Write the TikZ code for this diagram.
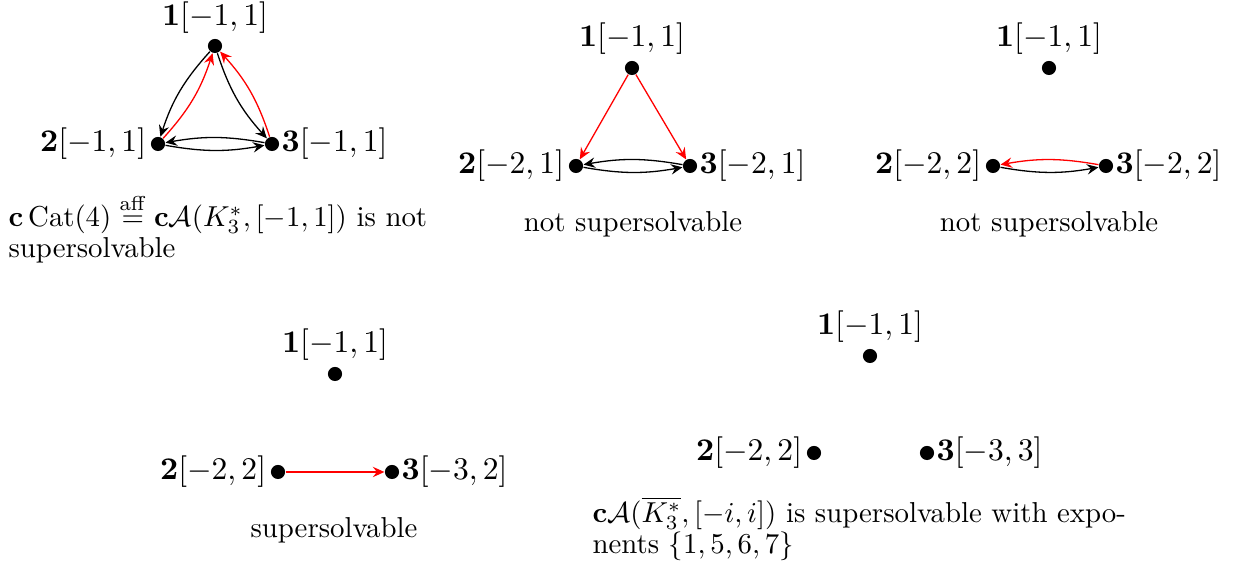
\documentclass[tikz,border=0pt]{standalone}
\usepackage{amsmath}
\usetikzlibrary{arrows.meta}
\begin{document}
\begin{tikzpicture}[x=0.347pt,y=-0.347pt,
  dot/.style={circle,fill=black,inner sep=0pt,minimum size=4.9pt},
  lab/.style={inner sep=0.5pt,font=\fontsize{10.5}{12}\selectfont},
  captext/.style={inner sep=0pt,font=\fontsize{10}{10.8}\selectfont},
  arr/.style={-{Stealth[length=4pt,width=3.6pt,inset=1.4pt]},line width=0.45pt},
  rarr/.style={arr,red},
  every label/.style={lab}]
\useasboundingbox (0,0) rectangle (1237,567);
% graph 1
\node[dot,label={[label distance=0.9pt]above:$\mathbf{1}[-1,1]$}] (a1) at (215,46) {};
\node[dot,label={[label distance=0.8pt]left:$\mathbf{2}[-1,1]$}] (a2) at (158,144) {};
\node[dot,label={[label distance=0pt]right:$\mathbf{3}[-1,1]$}] (a3) at (272,144) {};
\draw[arr] (a1) to[bend right=12] (a2);
\draw[rarr] (a2) to[bend right=12] (a1);
\draw[arr] (a1) to[bend right=12] (a3);
\draw[rarr] (a3) to[bend right=12] (a1);
\draw[arr] (a3) to[bend right=10] (a2);
\draw[arr] (a2) to[bend right=10] (a3);
\node[captext,anchor=north west,text width=150pt,align=left] (c1) at (8,193)
  {$\mathbf{c}\operatorname{Cat}(4) \stackrel{\mathrm{aff}}{=} \mathbf{c}\mathcal{A}(K_3^*,[-1,1])$ is not\\supersolvable};
% graph 2
\node[dot,label={[label distance=1.2pt]above:$\mathbf{1}[-1,1]$}] (b1) at (632,68) {};
\node[dot,label={[label distance=0.8pt]left:$\mathbf{2}[-2,1]$}] (b2) at (576,166) {};
\node[dot,label={[label distance=0pt]right:$\mathbf{3}[-2,1]$}] (b3) at (690,166) {};
\draw[rarr] (b1) -- (b2);
\draw[rarr] (b1) -- (b3);
\draw[arr] (b3) to[bend right=10] (b2);
\draw[arr] (b2) to[bend right=10] (b3);
\node[captext,anchor=base] (c2) at (633,232) {not supersolvable};
% graph 3
\node[dot,label={[label distance=1.2pt]above:$\mathbf{1}[-1,1]$}] (d1) at (1049,68) {};
\node[dot,label={[label distance=0.8pt]left:$\mathbf{2}[-2,2]$}] (d2) at (993,166) {};
\node[dot,label={[label distance=0pt]right:$\mathbf{3}[-2,2]$}] (d3) at (1106,166) {};
\draw[rarr] (d3) to[bend right=10] (d2);
\draw[arr] (d2) to[bend right=10] (d3);
\node[captext,anchor=base] (c3) at (1049,232) {not supersolvable};
% graph 4
\node[dot,label={[label distance=1.2pt]above:$\mathbf{1}[-1,1]$}] (e1) at (335,374) {};
\node[dot,label={[label distance=0.8pt]left:$\mathbf{2}[-2,2]$}] (e2) at (278,472) {};
\node[dot,label={[label distance=0pt]right:$\mathbf{3}[-3,2]$}] (e3) at (392,472) {};
\draw[rarr] (e2) -- (e3);
\node[captext,anchor=base] (c4) at (334,538) {supersolvable};
% graph 5
\node[dot,label={[label distance=1.2pt]above:$\mathbf{1}[-1,1]$}] (f1) at (870,356) {};
\node[dot,label={[label distance=0.8pt]left:$\mathbf{2}[-2,2]$}] (f2) at (814,453) {};
\node[dot,label={[label distance=0pt]right:$\mathbf{3}[-3,3]$}] (f3) at (927,453) {};
\node[captext,anchor=north west,text width=200pt,align=left] (c5) at (592,496)
  {$\mathbf{c}\mathcal{A}(\overline{K_3^*},[-i,i])$ is supersolvable with expo-\\nents $\{1,5,6,7\}$};
\end{tikzpicture}
\end{document}
